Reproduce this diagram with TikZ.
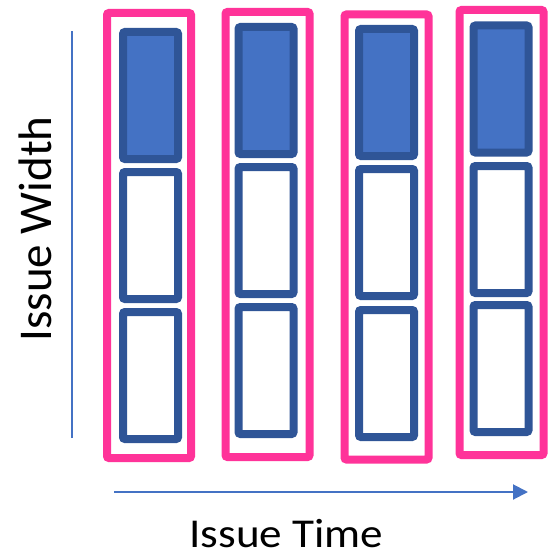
\documentclass[tikz,border=0pt]{standalone}
\usepackage{fontspec}
\setmainfont{Carlito}
\usepackage{tikz}
\usetikzlibrary{arrows.meta}
\definecolor{slotblue}{RGB}{47,85,151}
\definecolor{slotfill}{RGB}{68,114,196}
\definecolor{bundlepink}{RGB}{255,51,153}
\tikzset{
	bundle/.style={
		rectangle,
		rounded corners=1pt,
		draw=bundlepink,
		line width=4pt,
		minimum width=42pt,
		minimum height=222.5pt,
		inner sep=0pt
	},
	slot/.style={
		rectangle,
		rounded corners=1pt,
		draw=slotblue,
		line width=4pt,
		minimum width=27.5pt,
		minimum height=63.5pt,
		inner sep=0pt
	},
	busy/.style={slot,fill=slotfill},
	axis/.style={draw=slotfill,line width=0.8pt},
	axislabel/.style={font=\fontsize{20.5}{24}\selectfont,inner sep=0pt}
}

\begin{document}
\begin{tikzpicture}[x=0.5pt,y=-0.5pt]
		\useasboundingbox (0,0) rectangle (552,556);
		% one bundle per cycle
		\node[bundle] (b1) at (149,235.5) {};
		\node[bundle] (b2) at (267.5,234.5) {};
		\node[bundle] (b3) at (386.5,237) {};
		\node[bundle] (b4) at (501.5,232.5) {};

		% issue slots, top one taken
		\node[busy] (s11) at (150.5,95.5) {};
		\node[slot] (s12) at (150.5,235.5) {};
		\node[slot] (s13) at (150.5,375.5) {};
		\node[busy] (s21) at (266,90.5) {};
		\node[slot] (s22) at (266,230.5) {};
		\node[slot] (s23) at (266,370.5) {};
		\node[busy] (s31) at (386.5,92.5) {};
		\node[slot] (s32) at (386.5,232.5) {};
		\node[slot] (s33) at (386.5,373.5) {};
		\node[busy] (s41) at (501,89) {};
		\node[slot] (s42) at (501,229.5) {};
		\node[slot] (s43) at (501,368.5) {};

		% axes
		\coordinate (wtop) at (72,31);
		\coordinate (wbot) at (72,438);
		\coordinate (tstart) at (114,492);
		\coordinate (tend) at (528,492);
		\draw[axis] (wbot) -- (wtop);
		\draw[axis,line width=1pt,-{Triangle[length=7.5pt,width=7.5pt]}] (tstart) -- (tend);

		\node[axislabel,anchor=base,xscale=1.1] (tlabel) at (286.5,547) {Issue Time};
		\node[axislabel,font=\fontsize{23.5}{28}\selectfont,anchor=base,rotate=90] (wlabel) at (51,229) {Issue Width};
	\end{tikzpicture}
\end{document}
